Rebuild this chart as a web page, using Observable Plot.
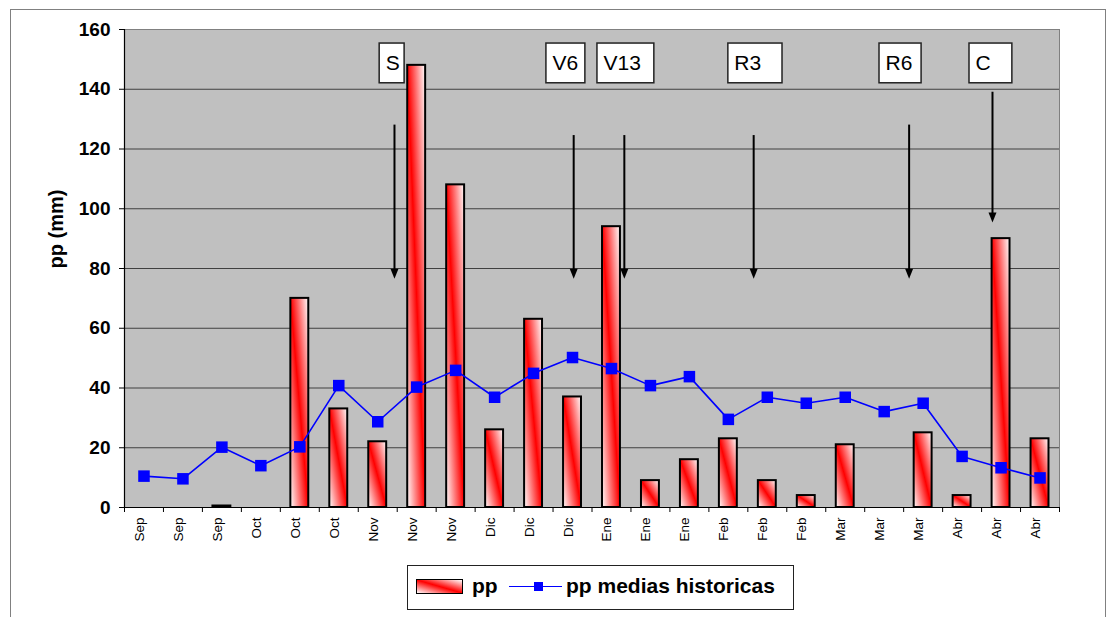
<!DOCTYPE html>
<html>
<head>
<meta charset="utf-8">
<script src="https://cdn.jsdelivr.net/npm/d3@7"></script>
<script src="https://cdn.jsdelivr.net/npm/@observablehq/plot@0.6"></script>
<style>
  html, body { margin: 0; padding: 0; background: #fff; overflow: hidden; }
  body { font-family: "Liberation Sans", Arial, sans-serif; }
  #chart { position: relative; width: 1117px; height: 617px; }
  #border { position: absolute; left: 10px; top: 9px; width: 1096px; height: 640px;
            border: 1px solid #808080; box-sizing: border-box; }
  #chart svg { position: absolute; left: 0; top: 0; }
  #chart svg g[aria-label="y-axis tick label"] { font-weight: bold; font-size: 19px; }
  #legend { position: absolute; left: 407px; top: 565px; width: 387px; height: 45px;
            border: 1px solid #222; box-sizing: border-box; background: #fff; }
  #legend .sw { position: absolute; left: 8px; top: 13px; width: 47px; height: 15px;
                border: 1.5px solid #000; box-sizing: border-box;
                background: linear-gradient(to top right, #fff 0%, #f00 50%, #fff 100%); }
  #legend .lbl { position: absolute; top: 8px; font-weight: bold; font-size: 21px; line-height: 24px; color: #000; }
  #legend .ln { position: absolute; left: 101px; top: 20px; width: 53px; height: 0;
                border-top: 1.6px solid #0000ff; }
  #legend .mk { position: absolute; left: 126px; top: 16px; width: 9px; height: 9px; background: #0000ff; }
</style>
</head>
<body>
<div id="chart">
  <div id="border"></div>
  <div id="legend">
    <div class="sw"></div>
    <div class="lbl" style="left:64px">pp</div>
    <div class="ln"></div>
    <div class="mk"></div>
    <div class="lbl" style="left:158px">pp medias historicas</div>
  </div>
</div>
<script>
// Monthly categories (three periods per month)
const months = ["Sep","Sep","Sep","Oct","Oct","Oct","Nov","Nov","Nov","Dic","Dic","Dic",
                "Ene","Ene","Ene","Feb","Feb","Feb","Mar","Mar","Mar","Abr","Abr","Abr"];
// Precipitation of the season (mm)
const pp = [0, 0, 0.5, 0, 70, 33, 22, 148, 108, 26, 63, 37,
            94, 9, 16, 23, 9, 4, 21, 0, 25, 4, 90, 23];
// Historical mean precipitation (mm)
const ppMedias = [10.5, 9.6, 20.2, 14, 20.3, 40.8, 28.7, 40.3, 45.9, 36.9, 44.9, 50.2,
                  46.5, 40.8, 43.8, 29.5, 36.9, 34.9, 36.9, 32.1, 34.9, 17.1, 13.3, 9.9];
// Y axis ticks (mm)
const yTicks = [0, 20, 40, 60, 80, 100, 120, 140, 160];
// Crop stages, dated on the category axis (period index units)
const stages     = ["S", "V6", "V13", "R3", "R6", "C"];
const stageDate  = [6.93, 11.53, 12.83, 16.15, 20.14, 22.28];
const stageBoxX1 = [6.55, 10.83, 12.14, 15.50, 19.38, 21.69];
const stageBoxX2 = [7.19, 11.83, 13.60, 16.89, 20.46, 22.79];
const arrowFrom  = [128, 124.5, 124.5, 124.5, 128, 139];
const arrowTo    = [76.6, 76.6, 76.6, 76.6, 76.6, 95.4];
const boxLow = 142, boxHigh = 155.3;

const periods = months.map((m, i) => ({ i, month: m, pp: pp[i], media: ppMedias[i] }));
const stageData = stages.map((s, k) => ({
  label: s, date: stageDate[k], x1: stageBoxX1[k], x2: stageBoxX2[k],
  from: arrowFrom[k], to: arrowTo[k]
}));

// Filled arrowhead whose tip sits on the anchor point
const arrowHead = {
  draw(ctx) { ctx.moveTo(0, 0); ctx.lineTo(-4, -10); ctx.lineTo(4, -10); ctx.closePath(); }
};

const half = 0.23; // half bar width in period units
const mid = d => d.i + 0.5;

const svg = Plot.plot({
  width: 1117, height: 617,
  marginLeft: 124, marginRight: 58, marginTop: 29, marginBottom: 110,
  x: { domain: [0, 24] },
  y: { domain: [0, 160] },
  style: { fontFamily: "Liberation Sans, Arial, sans-serif", background: "transparent", color: "#000" },
  marks: [
    Plot.frame({ fill: "#c0c0c0", stroke: "#808080" }),
    Plot.ruleY(yTicks.filter(v => v > 0 && v < 160), { stroke: "#404040", strokeWidth: 1 }),
    Plot.ruleX([0], { stroke: "#000", strokeWidth: 1.2 }),
    Plot.ruleY([0], { stroke: "#000", strokeWidth: 1.2 }),
    Plot.axisY({ ticks: yTicks, tickSize: 5, tickPadding: 9, label: null, fontSize: 19, fontWeight: "bold" }),
    Plot.axisX({ ticks: d3.range(0, 25), tickSize: 5, tickFormat: () => "", label: null }),
    Plot.text(periods, { x: mid, frameAnchor: "bottom", dy: 10, rotate: -90, textAnchor: "end",
                         text: "month", fontSize: 13.5 }),
    Plot.text(["pp (mm)"], { frameAnchor: "left", dx: -68, rotate: -90, fontSize: 20, fontWeight: "bold" }),
    Plot.rectY(periods.filter(d => d.pp > 0), {
      x1: d => mid(d) - half, x2: d => mid(d) + half, y: "pp",
      fill: "url(#ppFill)", stroke: "#000", strokeWidth: 2
    }),
    Plot.line(periods, { x: mid, y: "media", stroke: "#0000ff", strokeWidth: 1.6 }),
    Plot.dot(periods, { x: mid, y: "media", symbol: "square", r: 6.5, fill: "#0000ff", stroke: null }),
    Plot.ruleX(stageData, { x: "date", y1: "from", y2: d => d.to + 3, stroke: "#000", strokeWidth: 2 }),
    Plot.dot(stageData, { x: "date", y: "to", symbol: arrowHead, fill: "#000", stroke: null }),
    Plot.rect(stageData, { x1: "x1", x2: "x2", y1: boxLow, y2: boxHigh, fill: "#fff", stroke: "#222", strokeWidth: 1.5 }),
    Plot.text(stageData, { x: "x1", y: (boxLow + boxHigh) / 2, dx: 6, textAnchor: "start", text: "label",
                           fontSize: 21 })
  ]
});

// Diagonal white-red-white fill for the bars
const defs = d3.select(svg).insert("defs", ":first-child");
const grad = defs.append("linearGradient").attr("id", "ppFill")
  .attr("x1", 0).attr("y1", 1).attr("x2", 1).attr("y2", 0);
grad.append("stop").attr("offset", "0").attr("stop-color", "#fff");
grad.append("stop").attr("offset", "0.5").attr("stop-color", "#f00");
grad.append("stop").attr("offset", "1").attr("stop-color", "#fff");

document.getElementById("chart").insertBefore(svg, document.getElementById("legend"));
</script>
</body>
</html>
